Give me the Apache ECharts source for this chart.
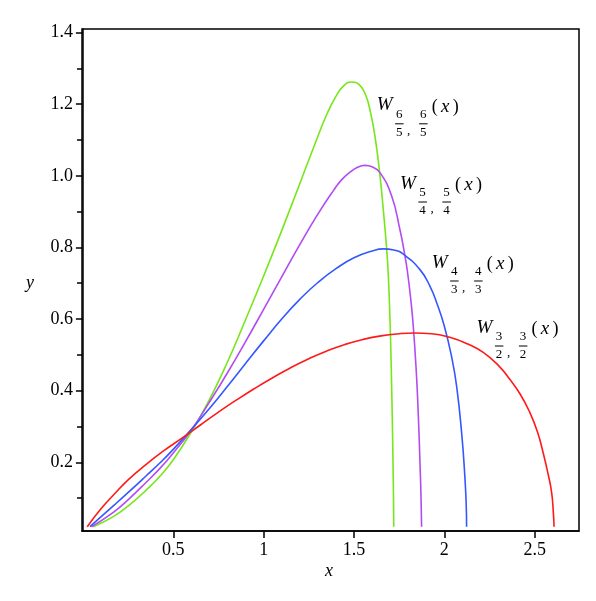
<!DOCTYPE html>
<html>
<head>
<meta charset="utf-8">
<script src="https://cdn.jsdelivr.net/npm/echarts@6/dist/echarts.min.js"></script>
<style>
  html, body { margin: 0; padding: 0; background: #fff; }
  #chart { width: 596px; height: 601px; }
</style>
</head>
<body>
<div id="chart"></div>
<script>
// values: [x, y]
const curve65 = [
  [0.057, 0.02], [0.168, 0.048], [0.26, 0.082], [0.352, 0.123], [0.43, 0.163],
  [0.5, 0.207], [0.6, 0.285], [0.7, 0.375], [0.8, 0.48], [0.9, 0.598],
  [1.0, 0.72], [1.1, 0.847], [1.2, 0.978], [1.3, 1.11], [1.35, 1.172],
  [1.4, 1.222], [1.44, 1.25], [1.487, 1.262], [1.53, 1.254], [1.565, 1.225],
  [1.59, 1.18], [1.616, 1.111], [1.644, 0.999], [1.662, 0.906], [1.681, 0.794],
  [1.69, 0.72], [1.697, 0.63], [1.703, 0.53], [1.708, 0.42], [1.713, 0.29],
  [1.717, 0.16], [1.719, 0.08], [1.72, 0.02]
];
const curve54 = [
  [0.048, 0.02], [0.168, 0.06], [0.26, 0.1], [0.352, 0.145], [0.43, 0.185],
  [0.5, 0.226], [0.6, 0.29], [0.7, 0.368], [0.8, 0.45], [0.9, 0.537],
  [1.0, 0.627], [1.1, 0.718], [1.2, 0.808], [1.3, 0.893], [1.385, 0.958],
  [1.43, 0.988], [1.478, 1.01], [1.52, 1.024], [1.561, 1.029], [1.6, 1.025],
  [1.644, 1.009], [1.708, 0.944], [1.754, 0.85], [1.782, 0.776], [1.795, 0.735],
  [1.812, 0.665], [1.828, 0.58], [1.845, 0.45], [1.856, 0.33], [1.865, 0.2],
  [1.871, 0.1], [1.874, 0.02]
];
const curve43 = [
  [0.039, 0.02], [0.168, 0.078], [0.26, 0.12], [0.352, 0.163], [0.43, 0.2],
  [0.5, 0.236], [0.6, 0.292], [0.7, 0.35], [0.8, 0.412], [0.9, 0.476],
  [1.0, 0.539], [1.1, 0.6], [1.2, 0.655], [1.3, 0.702], [1.404, 0.742],
  [1.5, 0.771], [1.6, 0.79], [1.662, 0.796], [1.72, 0.793], [1.773, 0.781],
  [1.865, 0.738], [1.92, 0.692], [1.96, 0.642], [2.0, 0.58], [2.04, 0.495],
  [2.068, 0.412], [2.096, 0.28], [2.114, 0.155], [2.121, 0.08], [2.123, 0.02]
];
const curve32 = [
  [0.024, 0.02], [0.1, 0.07], [0.168, 0.108], [0.25, 0.151], [0.352, 0.195],
  [0.45, 0.233], [0.55, 0.268], [0.65, 0.304], [0.75, 0.34], [0.85, 0.374],
  [0.95, 0.406], [1.05, 0.436], [1.15, 0.464], [1.25, 0.489], [1.35, 0.511],
  [1.45, 0.529], [1.55, 0.543], [1.65, 0.553], [1.75, 0.559], [1.83, 0.561],
  [1.93, 0.559], [2.03, 0.549], [2.13, 0.53], [2.215, 0.507], [2.3, 0.47],
  [2.363, 0.431], [2.42, 0.39], [2.474, 0.338], [2.515, 0.285], [2.547, 0.226],
  [2.575, 0.165], [2.594, 0.114], [2.603, 0.06], [2.607, 0.02]
];

const xTicks = [0.5, 1, 1.5, 2, 2.5];
const yTicks = [0.2, 0.4, 0.6, 0.8, 1.0, 1.2, 1.4];
const yMinorTicks = [0.1, 0.3, 0.5, 0.7, 0.9, 1.1, 1.3];

// label text: [numerator, denominator]
const fracs = [["6", "5"], ["5", "4"], ["4", "3"], ["3", "2"]];
const colors = ["#77e61a", "#b24bf2", "#3358ff", "#ff1a1a"];

const SERIF = "'Liberation Serif', 'DejaVu Serif', serif";

// W_{n/d, n/d}(x) drawn from pieces, L = left of W, C = middle of W
function makeLabel(L, C, num, den) {
  const t = (x, y, s, size, italic) => ({
    type: "text",
    x: x,
    y: y,
    style: {
      text: s,
      font: (italic ? "italic " : "") + size + "px " + SERIF,
      fill: "#000",
      align: "center",
      verticalAlign: "middle",
    },
  });
  const bar = (x1, y) => ({
    type: "line",
    shape: { x1: x1, y1: y, x2: x1 + 8.5, y2: y },
    style: { stroke: "#000", lineWidth: 1 },
  });
  return {
    type: "group",
    children: [
      t(L + 8, C, "W", 19, true),
      t(L + 22.6, C + 9, num, 13),
      bar(L + 18.4, C + 18.5),
      t(L + 22.6, C + 27.5, den, 13),
      t(L + 32, C + 25, ",", 13),
      t(L + 46.6, C + 9, num, 13),
      bar(L + 42.4, C + 18.5),
      t(L + 46.6, C + 27.5, den, 13),
      t(L + 58, C + 1.5, "(", 18),
      t(L + 68.5, C + 1.5, "x", 19, true),
      t(L + 79, C + 1.5, ")", 18),
    ],
  };
}

const labelPos = [
  [376.7, 105.3],
  [400, 183.5],
  [431.7, 262.5],
  [476.5, 327.5],
];

const chart = echarts.init(document.getElementById("chart"), null, {
  renderer: "canvas",
});

const xMin = -0.005, xMax = 2.745;
const yMin = 0.008, yMax = 1.41;

const option = {
  animation: false,
  backgroundColor: "#fff",
  grid: {
    left: 82,
    right: 17,
    top: 29,
    bottom: 70,
    show: true,
    borderColor: "#000",
    borderWidth: 1.5,
    backgroundColor: "transparent",
  },
  xAxis: {
    type: "value",
    min: xMin,
    max: xMax,
    axisLine: { show: true, lineStyle: { color: "#000", width: 1.5 } },
    axisTick: {
      show: true,
      length: 7,
      customValues: xTicks,
      lineStyle: { color: "#000", width: 1.5 },
    },
    axisLabel: {
      customValues: xTicks,
      margin: 10,
      color: "#000",
      fontFamily: SERIF,
      fontSize: 18,
    },
    splitLine: { show: false },
  },
  yAxis: [
    {
      type: "value",
      min: yMin,
      max: yMax,
      axisLine: { show: true, lineStyle: { color: "#000", width: 1.5 } },
      axisTick: {
        show: true,
        length: 7,
        customValues: yTicks,
        lineStyle: { color: "#000", width: 1.5 },
      },
      axisLabel: {
        customValues: yTicks,
        margin: 9,
        color: "#000",
        fontFamily: SERIF,
        fontSize: 18,
        formatter: (v) => v.toFixed(1),
      },
      splitLine: { show: false },
    },
    {
      type: "value",
      position: "left",
      min: yMin,
      max: yMax,
      axisLine: { show: false },
      axisTick: {
        show: true,
        length: 5,
        customValues: yMinorTicks,
        lineStyle: { color: "#000", width: 1.5 },
      },
      axisLabel: { show: false },
      splitLine: { show: false },
    },
  ],
  series: [curve65, curve54, curve43, curve32].map((d, i) => ({
    type: "line",
    data: d,
    smooth: 0.5,
    symbol: "none",
    lineStyle: { color: colors[i], width: 1.6 },
    z: 3,
  })),
  graphic: [
    {
      type: "text",
      x: 30,
      y: 283,
      style: {
        text: "y",
        font: "italic 18px " + SERIF,
        fill: "#000",
        align: "center",
        verticalAlign: "middle",
      },
    },
    {
      type: "text",
      x: 329,
      y: 571,
      style: {
        text: "x",
        font: "italic 18px " + SERIF,
        fill: "#000",
        align: "center",
        verticalAlign: "middle",
      },
    },
  ].concat(
    labelPos.map((p, i) => makeLabel(p[0], p[1], fracs[i][0], fracs[i][1]))
  ),
};

chart.setOption(option);
</script>
</body>
</html>
